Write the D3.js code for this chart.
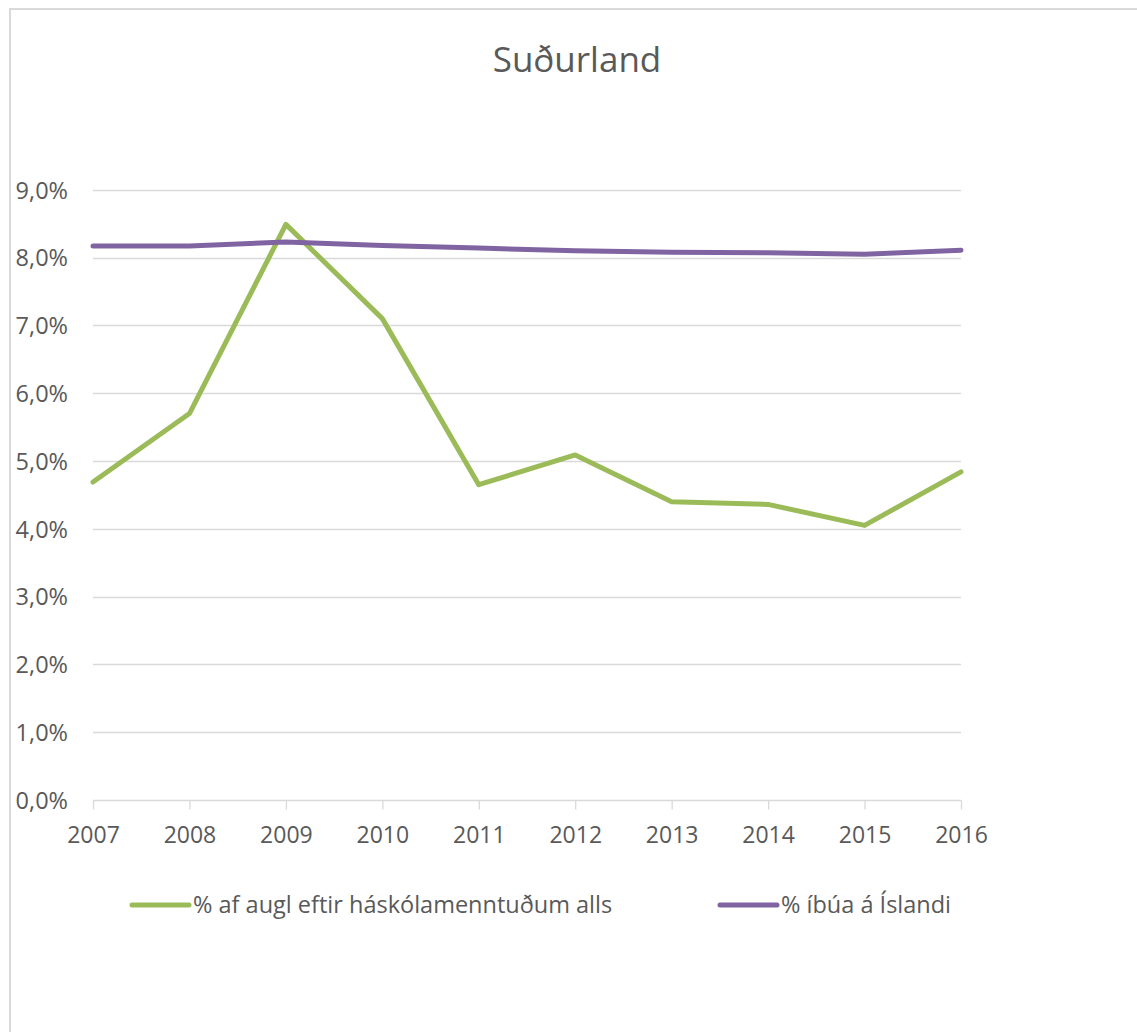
<!DOCTYPE html>
<html>
<head>
<meta charset="utf-8">
<script src="https://cdn.jsdelivr.net/npm/d3@7"></script>
<style>
  html, body { margin: 0; padding: 0; background: #fff; }
  svg { display: block; }
  text { font-family: "Open Sans", "Noto Sans", sans-serif; fill: #595959; }
</style>
</head>
<body>
<svg id="chart" width="1137" height="1032"></svg>
<script>
const title = "Suðurland";
const years = ["2007","2008","2009","2010","2011","2012","2013","2014","2015","2016"];
const seriesNames = ["% af augl eftir háskólamenntuðum alls", "% íbúa á Íslandi"];
const adsShare = [4.69, 5.70, 8.49, 7.10, 4.65, 5.09, 4.40, 4.36, 4.05, 4.84];
const popShare = [8.17, 8.17, 8.23, 8.18, 8.14, 8.10, 8.08, 8.07, 8.05, 8.11];
const yTicks = [0, 1, 2, 3, 4, 5, 6, 7, 8, 9];
const colors = ["#9BBB59", "#8064A2"];

const svg = d3.select("#chart");

// chart frame
svg.append("rect")
  .attr("x", 10).attr("y", 9)
  .attr("width", 1150).attr("height", 1050)
  .attr("fill", "none").attr("stroke", "#d9d9d9").attr("stroke-width", 2);

const x = d3.scalePoint().domain(years).range([93, 961]);
const y = d3.scaleLinear().domain([0, 9]).range([800, 189.8]);

// title
svg.append("text")
  .attr("x", 577).attr("y", 72)
  .attr("text-anchor", "middle")
  .style("font-size", "35px")
  .text(title);

// gridlines
svg.append("g")
  .selectAll("line")
  .data(yTicks.filter(d => d > 0))
  .join("line")
  .attr("x1", 93).attr("x2", 961)
  .attr("y1", d => Math.round(y(d)) + 0.5).attr("y2", d => Math.round(y(d)) + 0.5)
  .attr("stroke", "#d9d9d9").attr("stroke-width", 1.3);

// y axis labels
const fmt = d => d3.format(".1f")(d).replace(".", ",") + "%";
const yAxis = d3.axisLeft(y).tickValues(yTicks).tickFormat(fmt).tickSize(0).tickPadding(0);
const gy = svg.append("g").attr("transform", "translate(68,0)").call(yAxis);
gy.select(".domain").remove();
gy.selectAll("text")
  .attr("x", 0).attr("dy", "0.35em")
  .style("font-size", "23.5px").style("font-family", "'Open Sans', sans-serif").attr("fill", "#595959");

// x axis
const xAxis = d3.axisBottom(x).tickSize(9).tickPadding(0).tickSizeOuter(0);
const gx = svg.append("g").attr("transform", "translate(0,800.5)").call(xAxis);
gx.select(".domain").attr("stroke", "#d9d9d9").attr("stroke-width", 1.3).attr("d", "M93,0H961");
gx.selectAll(".tick line").attr("stroke", "#d9d9d9").attr("stroke-width", 1.3);
gx.selectAll(".tick text")
  .attr("y", 42.5).attr("dy", 0)
  .style("font-size", "23px").style("font-family", "'Open Sans', sans-serif").attr("fill", "#595959");

// lines
const line = d3.line().x((d, i) => x(years[i])).y(d => y(d));
[adsShare, popShare].forEach((s, k) => {
  svg.append("path")
    .datum(s)
    .attr("d", line)
    .attr("fill", "none")
    .attr("stroke", colors[k])
    .attr("stroke-width", 5)
    .attr("stroke-linejoin", "round")
    .attr("stroke-linecap", "round");
});

// legend
const legendX = [130, 718];
const leg = svg.append("g");
seriesNames.forEach((name, k) => {
  const g = leg.append("g").attr("transform", `translate(${legendX[k]},905)`);
  g.append("line").attr("x1", 2).attr("x2", 59).attr("y1", 0).attr("y2", 0)
    .attr("stroke", colors[k]).attr("stroke-width", 5).attr("stroke-linecap", "round");
  g.append("text").attr("x", 63).attr("y", 0).attr("dy", "0.35em")
    .style("font-size", "23.5px").text(name);
});
</script>
</body>
</html>
